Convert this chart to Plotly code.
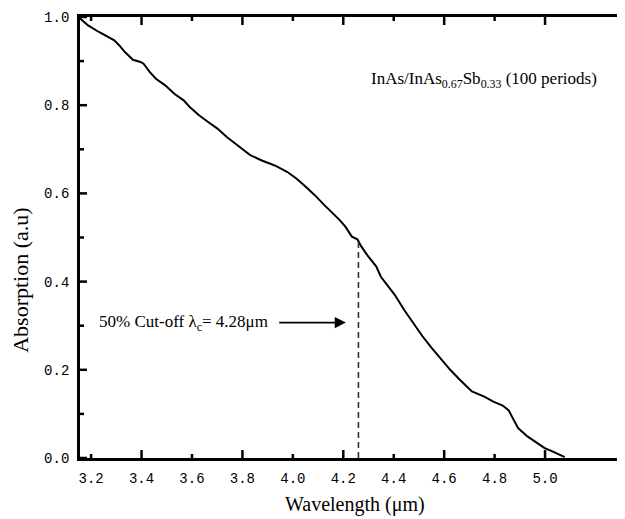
import plotly.graph_objects as go

# ---- data ----
wavelength = [3.150, 3.188, 3.231, 3.262, 3.292, 3.311, 3.335, 3.366, 3.396, 3.408,
              3.433, 3.457, 3.494, 3.530, 3.567, 3.591, 3.628, 3.664, 3.701, 3.738,
              3.774, 3.806, 3.831, 3.879, 3.916, 3.934, 3.977, 4.014, 4.051, 4.087,
              4.124, 4.160, 4.185, 4.209, 4.234, 4.256, 4.270, 4.295, 4.319, 4.331,
              4.349, 4.380, 4.404, 4.441, 4.478, 4.514, 4.551, 4.588, 4.624, 4.661,
              4.710, 4.759, 4.795, 4.832, 4.856, 4.875, 4.893, 4.930, 4.966, 4.997,
              5.040, 5.078]
absorption = [1.000, 0.981, 0.966, 0.956, 0.947, 0.936, 0.920, 0.903, 0.898, 0.894,
              0.875, 0.860, 0.845, 0.826, 0.811, 0.796, 0.777, 0.762, 0.747, 0.728,
              0.713, 0.698, 0.687, 0.674, 0.666, 0.662, 0.649, 0.634, 0.615, 0.596,
              0.574, 0.555, 0.540, 0.524, 0.502, 0.496, 0.481, 0.460, 0.442, 0.434,
              0.411, 0.389, 0.370, 0.336, 0.306, 0.276, 0.249, 0.223, 0.200, 0.178,
              0.151, 0.139, 0.128, 0.119, 0.108, 0.087, 0.068, 0.049, 0.034, 0.023,
              0.012, 0.002]

cutoff_wavelength = 4.26
cutoff_absorption = 0.496

x_tick_vals = [3.2, 3.4, 3.6, 3.8, 4.0, 4.2, 4.4, 4.6, 4.8, 5.0]
x_tick_labels = ["3.2", "3.4", "3.6", "3.8", "4.0", "4.2", "4.4", "4.6", "4.8", "5.0"]
x_long_tick_vals = [3.4, 3.8, 4.2, 4.6, 5.0]
y_tick_vals = [0.0, 0.2, 0.4, 0.6, 0.8, 1.0]
y_tick_labels = ["0.0", "0.2", "0.4", "0.6", "0.8", "1.0"]
y_minor_vals = [0.1, 0.3, 0.5, 0.7, 0.9]

x_range = [3.156, 5.317]
y_range = [0.0, 1.0]

title_text = "InAs/InAs<sub>0.67</sub>Sb<sub>0.33</sub> (100 periods)"
cutoff_text = "50% Cut-off λ<sub>c</sub>= 4.28μm"
x_title = "Wavelength (μm)"
y_title = "Absorption (a.u)"

SERIF = "Liberation Serif, Times New Roman, serif"
MONO = "Liberation Mono, DejaVu Sans Mono, monospace"

PLOT_W = 545.0
PLOT_H = 441.0
x_per_px = (x_range[1] - x_range[0]) / PLOT_W
y_per_px = (y_range[1] - y_range[0]) / PLOT_H


def tick_segments():
    """Inside tick marks on all four sides, built from the tick value lists."""
    xs, ys = [], []
    for xv in x_tick_vals:
        n = 8 if xv in x_long_tick_vals else 4
        xs += [xv, xv, None, xv, xv, None]
        ys += [y_range[0], y_range[0] + n * y_per_px, None,
               y_range[1], y_range[1] - n * y_per_px, None]
    for yv in y_tick_vals + y_minor_vals:
        n = 7 if yv in y_tick_vals else 4
        xs += [x_range[0], x_range[0] + n * x_per_px, None,
               x_range[1], x_range[1] - n * x_per_px, None]
        ys += [yv, yv, None, yv, yv, None]
    return xs, ys


fig = go.Figure()
fig.add_trace(go.Scatter(
    x=wavelength, y=absorption, mode="lines",
    line=dict(color="black", width=2), showlegend=False, hoverinfo="skip"))
fig.add_trace(go.Scatter(
    x=[cutoff_wavelength, cutoff_wavelength], y=[0, cutoff_absorption],
    mode="lines", line=dict(color="#333333", width=1.6, dash="6px,4px"),
    showlegend=False, hoverinfo="skip"))

tx, ty = tick_segments()
fig.add_trace(go.Scatter(
    x=tx, y=ty, mode="lines", line=dict(color="black", width=2.5),
    connectgaps=False, showlegend=False, hoverinfo="skip"))

# the page body has an 8px default margin: the figure is shrunk so it fits the window
fig.update_layout(
    width=617, height=511,
    margin=dict(l=72, r=0, t=9, b=61),
    paper_bgcolor="white", plot_bgcolor="white",
    xaxis=dict(
        range=x_range, tickmode="array", tickvals=x_tick_vals, ticktext=x_tick_labels,
        ticks="", showline=True, linewidth=2.8, linecolor="black", mirror=True,
        showgrid=False, zeroline=False, ticklabelstandoff=5,
        tickfont=dict(family=MONO, size=14, color="black")),
    yaxis=dict(
        range=y_range, tickmode="array", tickvals=y_tick_vals, ticktext=y_tick_labels,
        ticks="", showline=True, linewidth=2.8, linecolor="black",
        showgrid=False, zeroline=False, ticklabelstandoff=5,
        tickfont=dict(family=MONO, size=14, color="black")),
    annotations=[
        dict(text=title_text, xref="paper", yref="paper", x=0.952, y=0.858,
             xanchor="right", yanchor="middle", showarrow=False,
             font=dict(family=SERIF, size=17, color="black")),
        dict(text=cutoff_text, xref="paper", yref="paper", x=0.032, y=0.307,
             xanchor="left", yanchor="middle", showarrow=False,
             font=dict(family=SERIF, size=17, color="black")),
        dict(text="", x=cutoff_wavelength - 0.05, y=0.307, xref="x", yref="y",
             ax=cutoff_wavelength - 0.32, ay=0.307, axref="x", ayref="y",
             showarrow=True, arrowhead=2, arrowsize=1.3, arrowwidth=1.7, arrowcolor="black"),
        dict(text=x_title, xref="paper", yref="paper", x=0.505, y=-0.105,
             xanchor="center", yanchor="middle", showarrow=False,
             font=dict(family=SERIF, size=20, color="black")),
        dict(text=y_title, xref="paper", yref="paper", x=-0.1083, y=0.404,
             xanchor="center", yanchor="middle", showarrow=False, textangle=-90,
             font=dict(family=SERIF, size=22, color="black")),
    ],
)

fig.write_html("out.html")
